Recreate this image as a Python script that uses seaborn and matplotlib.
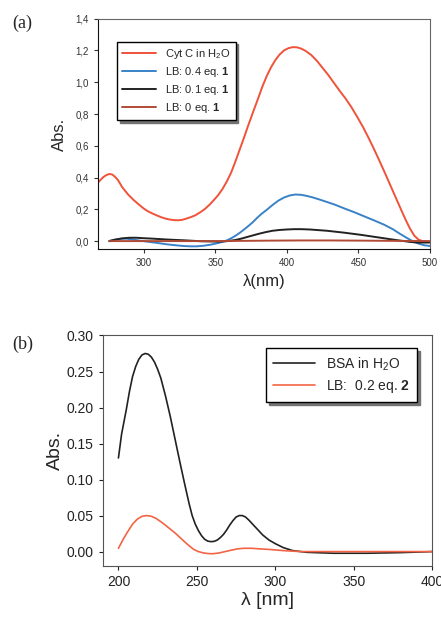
"""
UV-vis spectra: (a) Cyt C / LB films, (b) BSA / LB films
"""

import numpy as np
import pandas as pd
import seaborn as sns
import matplotlib.pyplot as plt

sns.set_style("ticks")
plt.rcParams['font.family'] = ['Liberation Sans', 'DejaVu Sans']
plt.rcParams['mathtext.fontset'] = 'custom'
plt.rcParams['mathtext.rm'] = 'Liberation Sans'
plt.rcParams['mathtext.bf'] = 'Liberation Sans:bold'

# --- panel (a) data ---
cytc_wl = [268, 270, 272, 274, 276, 278, 280, 282, 285, 289, 293, 297, 300, 303, 306, 309,
           312, 315, 318, 321, 324, 327, 330, 333, 336, 340, 343, 346, 349, 352, 355, 358,
           361, 364, 367, 370, 373, 377, 380, 383, 386, 389, 392, 395, 398, 401, 404, 407,
           410, 413, 417, 421, 425, 429, 433, 437, 441, 445, 449, 453, 457, 461, 465, 469,
           473, 477, 480, 483, 486, 489, 492, 495, 500]
cytc_abs = [0.368, 0.388, 0.405, 0.417, 0.423, 0.420, 0.405, 0.385, 0.340, 0.295, 0.259,
            0.228, 0.206, 0.188, 0.175, 0.163, 0.152, 0.143, 0.137, 0.133, 0.132, 0.135,
            0.143, 0.152, 0.163, 0.185, 0.205, 0.230, 0.259, 0.290, 0.328, 0.375, 0.430,
            0.500, 0.575, 0.650, 0.728, 0.827, 0.900, 0.975, 1.040, 1.095, 1.140, 1.175,
            1.200, 1.214, 1.221, 1.220, 1.212, 1.198, 1.172, 1.135, 1.090, 1.045, 0.995,
            0.945, 0.898, 0.845, 0.785, 0.722, 0.652, 0.578, 0.500, 0.420, 0.338, 0.256,
            0.195, 0.135, 0.080, 0.036, 0.010, 0.000, -0.004]

lb04_wl = [276, 280, 284, 288, 293, 298, 303, 309, 316, 322, 328, 333, 337, 342, 347, 351,
           355, 358, 361, 364, 367, 370, 373, 376, 379, 382, 386, 390, 394, 398, 402, 406,
           410, 414, 418, 423, 428, 433, 440, 447, 454, 461, 468, 474, 479, 484, 488, 492,
           496, 500]
lb04_abs = [0.000, 0.010, 0.016, 0.016, 0.010, 0.003, -0.003, -0.010, -0.019, -0.025,
            -0.030, -0.032, -0.032, -0.028, -0.021, -0.013, -0.004, 0.005, 0.018, 0.034,
            0.052, 0.073, 0.095, 0.118, 0.145, 0.170, 0.198, 0.228, 0.255, 0.275, 0.288,
            0.294, 0.292, 0.285, 0.276, 0.262, 0.247, 0.232, 0.207, 0.183, 0.157, 0.131,
            0.104, 0.076, 0.047, 0.020, 0.000, -0.015, -0.025, -0.030]

lb01_wl = [276, 280, 285, 290, 295, 300, 305, 316, 328, 340, 351, 356, 360, 364, 368, 372,
           376, 380, 385, 390, 395, 400, 405, 410, 416, 422, 428, 434, 440, 446, 452, 458,
           464, 470, 476, 481, 486, 491, 500]
lb01_abs = [0.002, 0.010, 0.018, 0.022, 0.022, 0.019, 0.017, 0.011, 0.006, 0.000,
            -0.002, -0.001, 0.002, 0.008, 0.016, 0.026, 0.036, 0.046, 0.057, 0.066, 0.071,
            0.074, 0.076, 0.076, 0.074, 0.070, 0.066, 0.060, 0.054, 0.047, 0.040, 0.032,
            0.024, 0.016, 0.008, 0.002, -0.004, -0.008, -0.008]

lb0_wl = [276, 300, 350, 390, 410, 430, 450, 480, 500]
lb0_abs = [0.001, 0.001, 0.001, 0.004, 0.005, 0.005, 0.004, 0.002, 0.001]

# --- panel (b) data ---
bsa_wl = [200, 202, 205, 207, 209, 211, 213, 215, 217, 219, 221, 223, 225, 227, 230, 233,
          236, 239, 242, 245, 247, 249, 251, 253, 255, 257, 259, 261, 263, 265, 267, 269,
          271, 273, 275, 277, 279, 281, 283, 286, 289, 292, 296, 300, 305, 311, 320, 337,
          358, 380, 400]
bsa_abs = [0.130, 0.163, 0.197, 0.222, 0.243, 0.257, 0.267, 0.273, 0.275, 0.274, 0.270,
           0.263, 0.253, 0.241, 0.216, 0.188, 0.157, 0.126, 0.096, 0.067, 0.050, 0.038,
           0.029, 0.022, 0.017, 0.0145, 0.0138, 0.0142, 0.016, 0.0195, 0.024, 0.030,
           0.037, 0.043, 0.048, 0.050, 0.050, 0.048, 0.044, 0.037, 0.030, 0.023, 0.016,
           0.011, 0.0056, 0.0014, -0.001, -0.0023, -0.0023, -0.0014, 0.000]

lb02_wl = [200, 203, 206, 209, 212, 215, 218, 221, 224, 228, 232, 236, 240, 244, 248, 251,
           254, 257, 260, 264, 268, 272, 276, 280, 285, 290, 296, 305, 316, 337, 400]
lb02_abs = [0.0046, 0.017, 0.028, 0.038, 0.045, 0.049, 0.050, 0.049, 0.046, 0.040, 0.033,
            0.026, 0.018, 0.010, 0.003, 0.000, -0.0018, -0.0027, -0.003, -0.002, 0.000,
            0.002, 0.0038, 0.0046, 0.0046, 0.0038, 0.003, 0.0014, 0.000, 0.000, 0.000]

labels_a = ['Cyt C in H$_2$O', 'LB: 0.4 eq. $\\mathbf{1}$', 'LB: 0.1 eq. $\\mathbf{1}$',
            'LB: 0 eq. $\\mathbf{1}$']
colors_a = ['#f0523a', '#3a82c8', '#222222', '#b04a35']
labels_b = ['BSA in H$_2$O', 'LB:  0.2 eq. $\\mathbf{2}$']
colors_b = ['#222222', '#f26445']

df_a = pd.concat([
    pd.DataFrame({'wl': cytc_wl, 'abs': cytc_abs, 'sample': labels_a[0]}),
    pd.DataFrame({'wl': lb04_wl, 'abs': lb04_abs, 'sample': labels_a[1]}),
    pd.DataFrame({'wl': lb01_wl, 'abs': lb01_abs, 'sample': labels_a[2]}),
    pd.DataFrame({'wl': lb0_wl, 'abs': lb0_abs, 'sample': labels_a[3]}),
])
df_b = pd.concat([
    pd.DataFrame({'wl': bsa_wl, 'abs': bsa_abs, 'sample': labels_b[0]}),
    pd.DataFrame({'wl': lb02_wl, 'abs': lb02_abs, 'sample': labels_b[1]}),
])

fig = plt.figure(figsize=(4.41, 6.23), dpi=100)
ax1 = fig.add_axes([0.222, 0.600, 0.753, 0.370])
ax2 = fig.add_axes([0.233, 0.0915, 0.747, 0.370])

shadow = {'ox': 2, 'oy': -2, 'color': '0.45', 'alpha': 1}

# (a)
sns.lineplot(data=df_a, x='wl', y='abs', hue='sample', palette=colors_a,
             hue_order=labels_a, ax=ax1, linewidth=1.4, sort=True, estimator=None)
ax1.set_xlim(268, 500)
ax1.set_ylim(-0.05, 1.4)
ax1.set_xticks([300, 350, 400, 450, 500])
ax1.set_yticks(np.arange(0, 1.41, 0.2))
ax1.set_yticklabels([f'{v:.1f}'.replace('.', ',') for v in np.arange(0, 1.41, 0.2)])
ax1.tick_params(labelsize=7, colors='#333333', length=3, width=0.8)
ax1.set_xlabel('λ(nm)', fontsize=12, labelpad=4)
ax1.set_ylabel('Abs.', fontsize=12, labelpad=6)
for s in ax1.spines.values():
    s.set_color('#666666')
ax1.spines['left'].set_color('#111111')
ax1.spines['bottom'].set_color('#111111')
leg = ax1.legend(loc='upper left', bbox_to_anchor=(0.04, 0.925), fontsize=8,
                 frameon=True, fancybox=False, edgecolor='black', shadow=shadow,
                 handlelength=3.0, borderpad=0.5, labelspacing=0.35)
leg.get_frame().set_linewidth(1.0)

# (b)
sns.lineplot(data=df_b, x='wl', y='abs', hue='sample', palette=colors_b,
             hue_order=labels_b, ax=ax2, linewidth=1.2, sort=True, estimator=None)
ax2.set_xlim(190, 400)
ax2.set_ylim(-0.02, 0.30)
ax2.set_xticks([200, 250, 300, 350, 400])
ax2.set_yticks(np.arange(0, 0.301, 0.05))
ax2.set_yticklabels([f'{v:.2f}' for v in np.arange(0, 0.301, 0.05)])
ax2.tick_params(labelsize=10, colors='#222222', length=3, width=0.8)
ax2.set_xlabel('λ [nm]', fontsize=14, labelpad=2)
ax2.set_ylabel('Abs.', fontsize=14, labelpad=2)
for s in ax2.spines.values():
    s.set_color('#555555')
leg2 = ax2.legend(loc='upper right', bbox_to_anchor=(0.975, 0.975), fontsize=10,
                  frameon=True, fancybox=False, edgecolor='black', shadow=shadow,
                  handlelength=3.0, borderpad=0.5, labelspacing=0.4)
leg2.get_frame().set_linewidth(1.0)

fig.text(0.027, 0.955, '(a)', fontsize=13, family=['Liberation Serif', 'DejaVu Serif'])
fig.text(0.027, 0.44, '(b)', fontsize=13, family=['Liberation Serif', 'DejaVu Serif'])

plt.savefig('out.png', dpi=100)
